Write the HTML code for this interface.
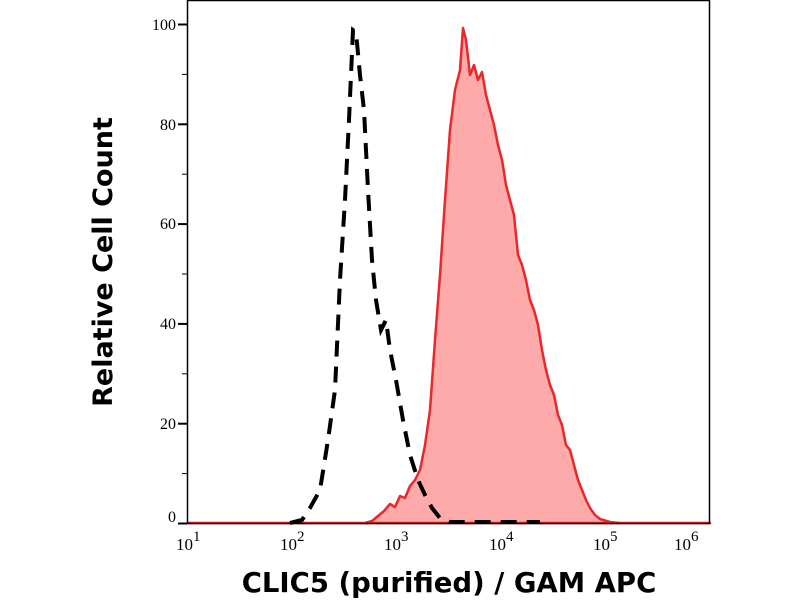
<!DOCTYPE html>
<html><head><style>body{margin:0;background:#fff}</style></head><body>
<svg width="800" height="600" xmlns="http://www.w3.org/2000/svg">
<rect width="800" height="600" fill="#fff"/>
<path fill="#ffaaaa" stroke="#e8282a" stroke-width="2.5" stroke-linejoin="round" d="M188,523 L365,523 L372,521 L378,516 L384,511 L390,504 L395,507 L400,496 L405,498 L410,486 L415,480 L420,470 L425,445 L430,410 L435,340 L440,275 L445,200 L450,130 L455,90 L460,70 L463,28 L466,40 L470,75 L474,65 L478,80 L482,72 L486,95 L490,110 L494,125 L498,145 L502,160 L506,185 L510,200 L514,215 L518,255 L522,265 L526,280 L530,300 L534,310 L538,325 L542,350 L546,370 L550,385 L554,395 L558,415 L562,425 L566,445 L570,450 L574,465 L578,480 L582,490 L586,500 L590,508 L595,515 L600,519 L610,522 L620,523 L710,523 Z"/>
<path fill="none" stroke="#000" stroke-width="4" stroke-dasharray="16,10" d="M290,523 L302,520 L310,508 L320,490 L328,440 L335,390 L340,280 L345,200 L349,120 L353,30 L356,32 L360,75 L364,110 L368,190 L372,260 L376,300 L381,330 L386,320 L390,350 L396,380 L403,420 L410,455 L418,480 L425,495 L432,508 L440,518 L450,522 L540,522"/>
<rect x="187.5" y="0.5" width="522" height="523" fill="none" stroke="#000" stroke-width="1.5"/>
<g stroke="#000" stroke-width="2">
<line x1="178" y1="523.5" x2="187" y2="523.5"/><line x1="178" y1="423.7" x2="187" y2="423.7"/><line x1="178" y1="323.9" x2="187" y2="323.9"/><line x1="178" y1="224.1" x2="187" y2="224.1"/><line x1="178" y1="124.3" x2="187" y2="124.3"/><line x1="178" y1="24.5" x2="187" y2="24.5"/>
</g>
<g stroke="#000" stroke-width="1">
<line x1="182" y1="473.6" x2="187" y2="473.6"/><line x1="182" y1="373.8" x2="187" y2="373.8"/><line x1="182" y1="274" x2="187" y2="274"/><line x1="182" y1="174.2" x2="187" y2="174.2"/><line x1="182" y1="74.4" x2="187" y2="74.4"/>
</g>
<g font-family="Liberation Serif, serif" font-size="16" text-anchor="end" fill="#000">
<text x="176" y="522">0</text><text x="176" y="429">20</text><text x="176" y="329">40</text><text x="176" y="229">60</text><text x="176" y="130">80</text><text x="176" y="30">100</text>
</g>
<g id="xt" stroke="#000" stroke-width="2"></g>
<g font-family="Liberation Serif, serif" font-size="17" fill="#000">
<text x="176" y="550">10<tspan dy="-9" font-size="15">1</tspan></text>
<text x="280" y="550">10<tspan dy="-9" font-size="15">2</tspan></text>
<text x="384" y="550">10<tspan dy="-9" font-size="15">3</tspan></text>
<text x="489" y="550">10<tspan dy="-9" font-size="15">4</tspan></text>
<text x="593" y="550">10<tspan dy="-9" font-size="15">5</tspan></text>
<text x="674" y="550">10<tspan dy="-9" font-size="15">6</tspan></text>
</g>
<text x="449" y="592" text-anchor="middle" font-family="DejaVu Sans, sans-serif" font-weight="bold" font-size="27.5">CLIC5 (purified) / GAM APC</text>
<text transform="translate(112,262) rotate(-90)" text-anchor="middle" font-family="DejaVu Sans, sans-serif" font-weight="bold" font-size="27">Relative Cell Count</text>
<script>
var g=document.getElementById('xt'),s='';
for(var d=0;d<5;d++){var x0=188+d*104.6;s+='<line x1="'+x0+'" y1="523" x2="'+x0+'" y2="533"/>';
for(var k=2;k<10;k++){var x=x0+Math.log10(k)*104.6;s+='<line x1="'+x+'" y1="523" x2="'+x+'" y2="528" stroke-width="1"/>';}}
s+='<line x1="711" y1="523" x2="711" y2="533"/>';
g.innerHTML=s;
</script>
</svg>
</body></html>
